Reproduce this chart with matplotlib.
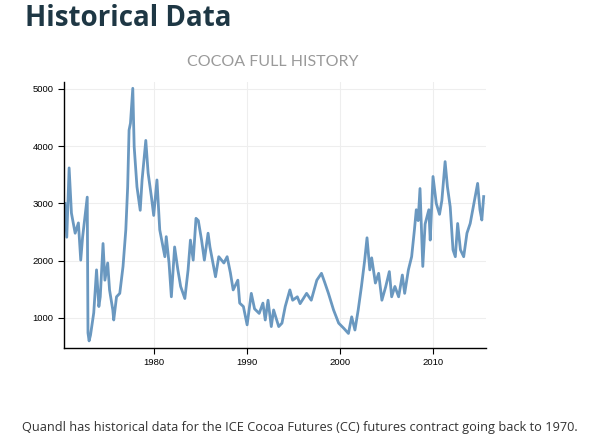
import matplotlib
matplotlib.use("Agg")
import matplotlib.pyplot as plt

# cocoa price (decimal year, USD/t)
years = [1970.4, 1970.6, 1970.85, 1971.1, 1971.5, 1971.85, 1972.1, 1972.3, 1972.55, 1972.8,
         1972.88, 1973.0, 1973.15, 1973.5, 1973.8, 1974.05, 1974.2, 1974.5, 1974.7, 1975.0,
         1975.2, 1975.55, 1975.65, 1975.95, 1976.3, 1976.65, 1976.95, 1977.15, 1977.3, 1977.45,
         1977.7, 1977.85, 1978.15, 1978.5, 1978.7, 1979.1, 1979.35, 1979.7, 1979.95, 1980.3,
         1980.6, 1981.15, 1981.3, 1981.6, 1981.85, 1982.2, 1982.55, 1982.85, 1983.3, 1983.65,
         1983.9, 1984.2, 1984.5, 1984.75, 1985.1, 1985.4, 1985.8, 1986.0, 1986.6, 1986.95,
         1987.5, 1987.85, 1988.2, 1988.5, 1989.0, 1989.2, 1989.6, 1990.0, 1990.45, 1990.8,
         1991.3, 1991.7, 1991.95, 1992.25, 1992.6, 1992.85, 1993.4, 1993.75, 1994.1, 1994.6,
         1994.9, 1995.4, 1995.7, 1996.4, 1996.9, 1997.5, 1998.0, 1998.35, 1998.75, 1999.3,
         1999.85, 2000.4, 2000.9, 2001.25, 2001.6, 2001.95, 2002.3, 2002.65, 2002.9, 2003.2,
         2003.4, 2003.8, 2004.15, 2004.5, 2004.9, 2005.3, 2005.55, 2005.9, 2006.3, 2006.7,
         2006.95, 2007.35, 2007.7, 2008.0, 2008.2, 2008.4, 2008.6, 2008.9, 2009.15, 2009.55,
         2009.7, 2010.0, 2010.35, 2010.7, 2010.95, 2011.3, 2011.55, 2011.85, 2012.15, 2012.4,
         2012.65, 2012.95, 2013.3, 2013.65, 2014.0, 2014.4, 2014.8, 2015.05, 2015.25, 2015.45]
prices = [3000, 2410, 3620, 2830, 2480, 2660, 2010, 2410, 2760, 3110,
          740, 600, 700, 1090, 1840, 1200, 1370, 2300, 1660, 1960,
          1490, 1140, 965, 1370, 1430, 1900, 2540, 3290, 4280, 4400,
          5010, 3990, 3290, 2880, 3410, 4100, 3530, 3120, 2790, 3410,
          2540, 2070, 2420, 1960, 1370, 2240, 1840, 1550, 1340, 1840,
          2360, 2010, 2740, 2700, 2360, 2010, 2480, 2240, 1720, 2070,
          1960, 2070, 1790, 1490, 1660, 1260, 1200, 880, 1430, 1160,
          1080, 1260, 965, 1310, 850, 1140, 850, 910, 1200, 1490,
          1310, 1370, 1250, 1430, 1310, 1660, 1780, 1620, 1430, 1140,
          910, 820, 730, 1020, 790, 1140, 1550, 2010, 2400, 1840,
          2050, 1610, 1780, 1310, 1540, 1810, 1370, 1550, 1370, 1750,
          1430, 1840, 2070, 2540, 2890, 2700, 3260, 1900, 2640, 2890,
          2360, 3470, 3000, 2810, 3050, 3730, 3290, 2940, 2190, 2070,
          2650, 2190, 2070, 2480, 2650, 3000, 3350, 2890, 2710, 3120]

xticks = [1980, 1990, 2000, 2010]
yticks = [1000, 2000, 3000, 4000, 5000]

fig = plt.figure(figsize=(5.91, 4.45), dpi=100)
fig.patch.set_facecolor("white")

fig.text(25/591, 1 - 18/445, "Historical Data", fontsize=20, fontweight="bold",
         color="#1e3744", family="Open Sans", va="center", ha="left")
fig.text(273/591, 1 - 62/445, "COCOA FULL HISTORY", fontsize=11.5, color="#9a9a9a",
         family="Lato", va="center", ha="center")
fig.text(22/591, 1 - 428/445,
         "Quandl has historical data for the ICE Cocoa Futures (CC) futures contract going back to 1970.",
         fontsize=9.2, color="#333333", family="Open Sans", va="center", ha="left")

ax = fig.add_axes([64/591, 1 - 348/445, 422/591, 266/445])
ax.plot(years, prices, color="#6a98c0", linewidth=2.0, solid_joinstyle="round")

ax.set_xlim(1970.3, 2015.7)
ax.set_ylim(476, 5120)
ax.set_xticks(xticks)
ax.set_xticklabels([str(t) for t in xticks], family="Liberation Sans")
ax.set_yticks(yticks)
ax.set_yticklabels([str(t) for t in yticks], family="Liberation Sans")
ax.tick_params(labelsize=6.8, length=4, width=0.8, colors="black")
ax.grid(True, color="#eeeeee", linewidth=0.8)
ax.set_axisbelow(True)
for s in ["top", "right"]:
    ax.spines[s].set_visible(False)
for s in ["left", "bottom"]:
    ax.spines[s].set_linewidth(1.0)
    ax.spines[s].set_color("black")

fig.savefig("out.png", dpi=100)
